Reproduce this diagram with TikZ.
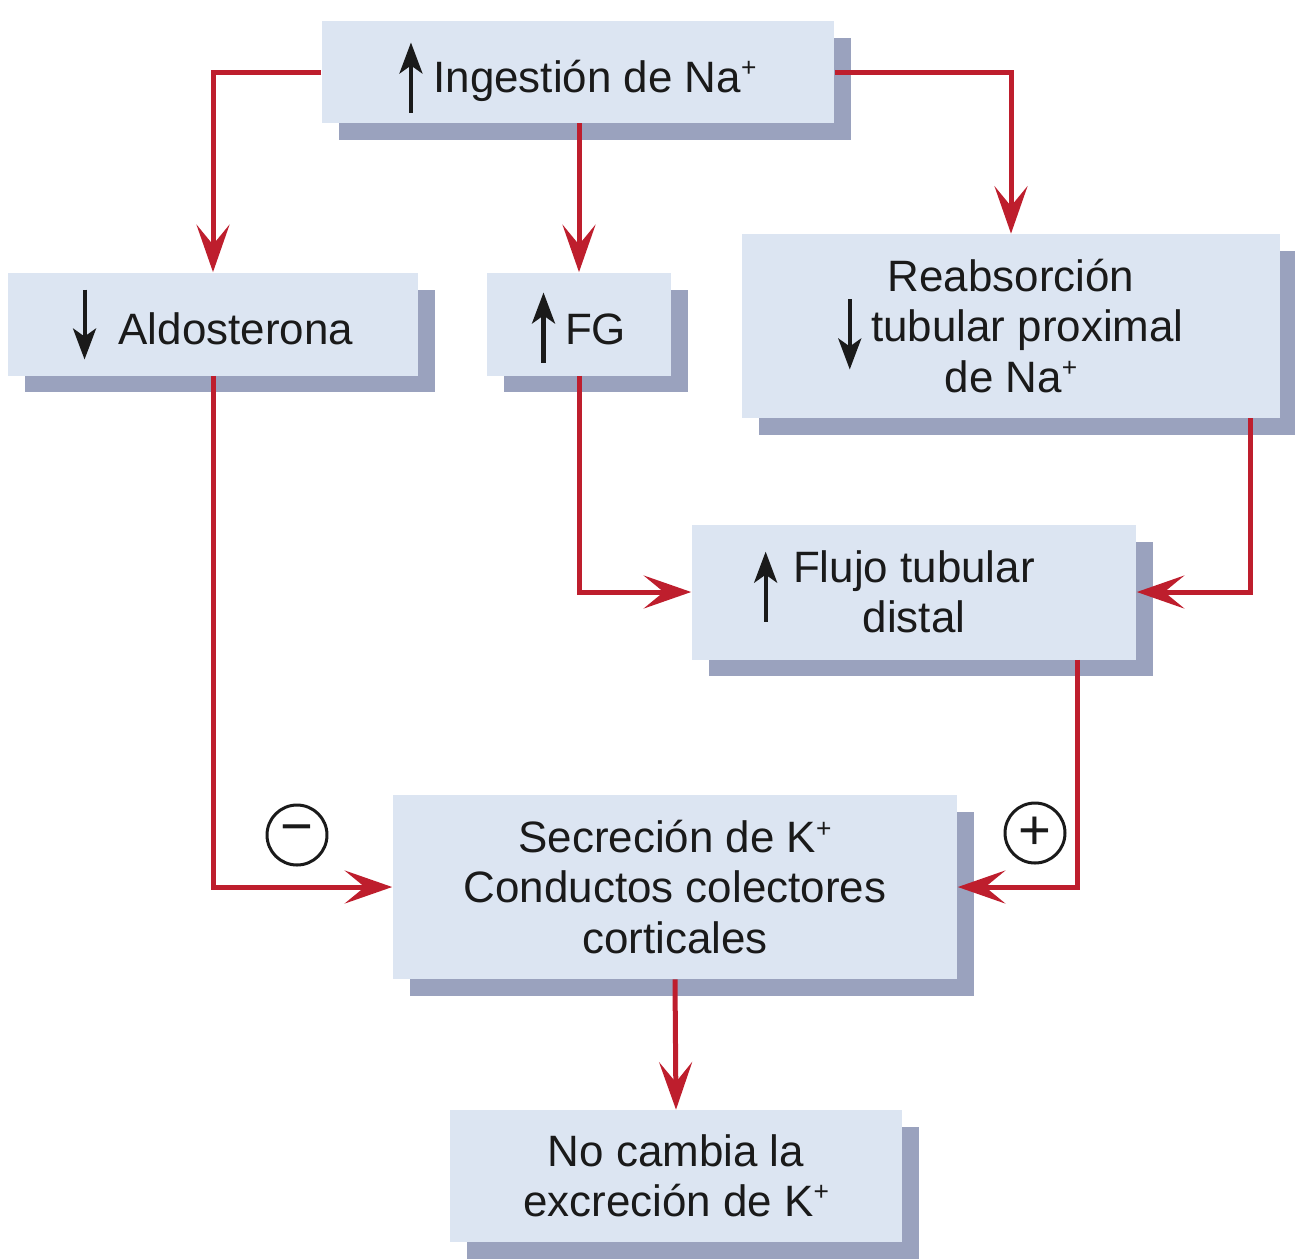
\documentclass[tikz,border=0pt]{standalone}
\usepackage{fontspec}
\setmainfont{Liberation Sans}
\usetikzlibrary{positioning,arrows.meta,shadows}

\definecolor{boxfill}{HTML}{DCE5F2}
\definecolor{boxshade}{HTML}{9AA2BE}
\definecolor{flowred}{HTML}{BE1E2D}
\definecolor{inktext}{HTML}{1A1A1A}

% small black arrows inside the boxes
\newcommand\uparr[1][0.4cm]{\smash{\tikz[baseline=#1]\draw[line width=2.3pt,
  -{Stealth[length=0.62cm,width=0.46cm,inset=0.16cm]}] (0,0) -- (0,1.4cm);}}
\newcommand\dnarr[1][0.3cm]{\smash{\tikz[baseline=#1]\draw[line width=2.3pt,
  -{Stealth[length=0.62cm,width=0.46cm,inset=0.16cm]}] (0,1.4cm) -- (0,0);}}
% small raised plus
\newcommand\ionp{\raisebox{0.36em}{\fontsize{15}{15}\selectfont+}}

\begin{document}
\begin{tikzpicture}[x=0.02cm, y=-0.02cm,
  box/.style={fill=boxfill, draw=none, align=center, inner sep=0pt,
    text=inktext, font=\fontsize{25}{28.5}\selectfont,
    drop shadow={shadow xshift=0.34cm, shadow yshift=-0.34cm,
      fill=boxshade, opacity=1}},
  oneline/.style={text height=1cm, text depth=0.18cm},
  flow/.style={draw=flowred, line width=0.1cm,
    -{Stealth[length=0.95cm,width=0.66cm,inset=0.4cm]}},
  sign/.style={circle, draw=inktext, line width=0.06cm, minimum size=1.2cm,
    inner sep=0pt, text=inktext, font=\fontsize{32}{32}\selectfont}]

\useasboundingbox (0,0) rectangle (1295,1259);

% boxes
\node[box, oneline, minimum width=10.26cm, minimum height=2.04cm] (ing) at (578,72)
  {\uparr\hspace{0.22cm}Ingestión de Na\ionp};
\node[box, oneline, minimum width=8.2cm, minimum height=2.06cm] (ald) at (213,324)
  {\dnarr\hspace{0.45cm}Aldosterona};
\node[box, oneline, minimum width=3.7cm, minimum height=2.06cm] (fg) at (579,324)
  {\uparr[0.36cm]\hspace{0.2cm}FG};
\node[box, minimum width=10.76cm, minimum height=3.68cm] (reab) at (1011,326)
  {Reabsorción\\\dnarr[0.55cm]\hspace{0.2cm}tubular proximal\\de Na\ionp};
\node[box, minimum width=8.9cm, minimum height=2.7cm] (flujo) at (914,592)
  {\llap{\uparr[0.78cm]\hspace{0.32cm}}Flujo tubular\\distal};
\node[box, minimum width=11.3cm, minimum height=3.68cm] (secr) at (675,887)
  {Secreción de K\ionp\\Conductos colectores\\corticales};
\node[box, minimum width=9.06cm, minimum height=2.64cm] (nocam) at (676,1176)
  {No cambia la\\excreción de K\ionp};

% signs
\node[sign] (minus) at (297,835) {−};
\node[sign] (plus) at (1035,833) {+};

% connectors
\draw[flow] (ing.west) -| (ald.north);
\draw[flow] (fg.north |- ing.south) -- (fg.north);
\draw[flow] (ing.east) -| (reab.north);
\draw[flow] (ald.south) |- (secr.west);
\draw[flow] (fg.south) |- (flujo.west);
\draw[flow] ([xshift=-0.6cm]reab.south east) |- (flujo.east);
\draw[flow] ([xshift=-1.18cm]flujo.south east) |- (secr.east);
\draw[flow] (secr.south) -- (nocam.north);
\end{tikzpicture}
\end{document}
